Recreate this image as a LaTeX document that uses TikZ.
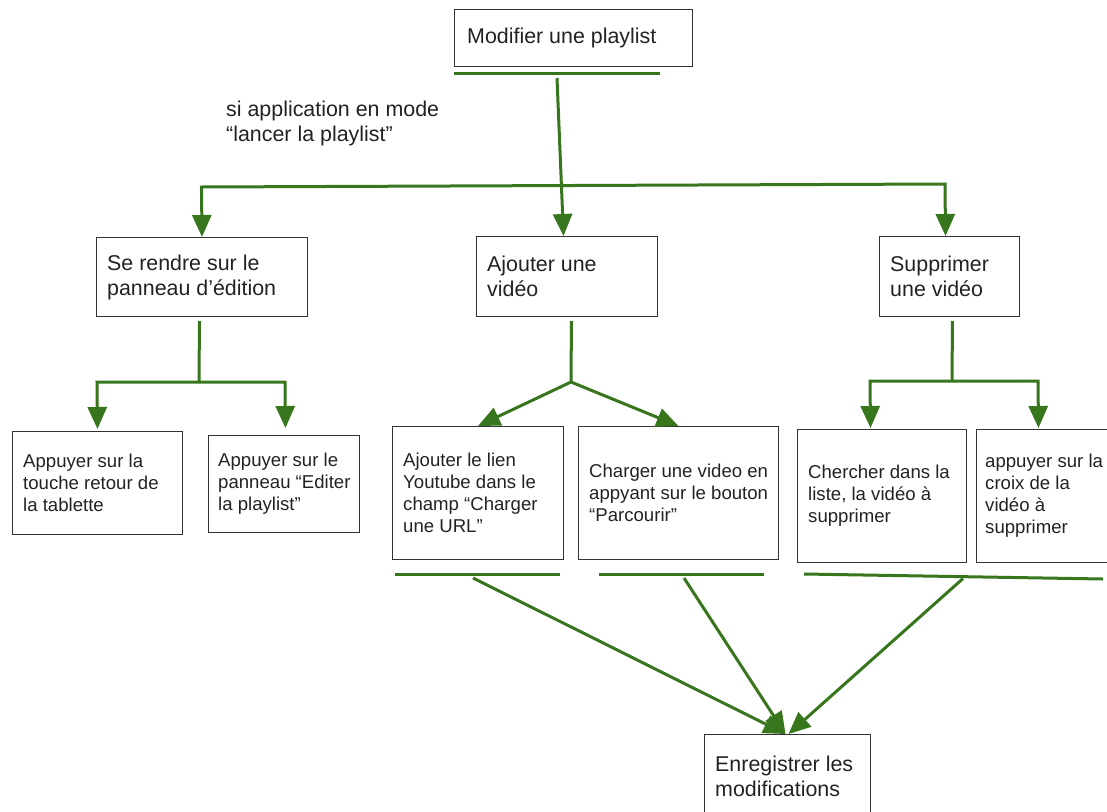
\documentclass[tikz,border=0pt]{standalone}
\usepackage{fontspec}
\setmainfont{Liberation Sans}
\usetikzlibrary{arrows.meta}
\definecolor{gr}{HTML}{38761D}
\definecolor{txtc}{HTML}{222222}
\begin{document}
\begin{tikzpicture}[x=1pt,y=-1pt,
  box/.style={draw=black!80, line width=1pt, rectangle, inner sep=0pt, anchor=north west},
  big/.style={font=\fontsize{21.4}{25}\selectfont, text=txtc, align=left, inner sep=0pt, anchor=west},
  small/.style={font=\fontsize{18.6}{22}\selectfont, text=txtc, align=left, inner sep=0pt, anchor=west},
  gline/.style={draw=gr, line width=3pt, line join=miter},
  >={Triangle[width=19pt,length=22pt]}
]
\useasboundingbox (0,0) rectangle (1107,811);
\clip (0,0) rectangle (1107,811);

% boxes
\node[box, minimum width=238, minimum height=57] (top) at (454,9) {};
\node[big] (toptxt) at ([xshift=13]top.west) {Modifier une playlist};

\node[big] (cond) at (226,123) {si application en mode\\“lancer la playlist”};

\node[box, minimum width=211, minimum height=79] (se) at (96,237) {};
\node[big] (setxt) at ([xshift=11]se.west) {Se rendre sur le\\panneau d’édition};

\node[box, minimum width=181, minimum height=80] (aj) at (476,236) {};
\node[big] (ajtxt) at ([xshift=11]aj.west) {Ajouter une\\vidéo};

\node[box, minimum width=140, minimum height=80] (su) at (879,236) {};
\node[big] (sutxt) at ([xshift=11]su.west) {Supprimer\\une vidéo};

\node[box, minimum width=170, minimum height=103] (ap1) at (12,431) {};
\node[small] (ap1txt) at ([xshift=11]ap1.west) {Appuyer sur la\\touche retour de\\la tablette};

\node[box, minimum width=151, minimum height=97] (ap2) at (208,435) {};
\node[small] (ap2txt) at ([xshift=10]ap2.west) {Appuyer sur le\\panneau “Editer\\la playlist”};

\node[box, minimum width=171, minimum height=133] (al) at (392,426) {};
\node[small] (altxt) at ([xshift=11]al.west) {Ajouter le lien\\Youtube dans le\\champ “Charger\\une URL”};

\node[box, minimum width=200, minimum height=133] (ch) at (578,426) {};
\node[small] (chtxt) at ([xshift=11]ch.west) {Charger une video en\\appyant sur le bouton\\“Parcourir”};

\node[box, minimum width=169, minimum height=133] (cs) at (797,429) {};
\node[small] (cstxt) at ([xshift=11]cs.west) {Chercher dans la\\liste, la vidéo à\\supprimer};

\node[box, minimum width=150, minimum height=133] (cx) at (976,429) {};
\node[small] (cxtxt) at ([xshift=9]cx.west) {appuyer sur la\\croix de la\\vidéo à\\supprimer};

\node[box, minimum width=166, minimum height=83] (en) at (704,734) {};
\node[big] (entxt) at ([xshift=11]en.west) {Enregistrer les\\modifications};

% top connectors
\coordinate (u0a) at (454,73);
\coordinate (u0b) at (660,73);
\draw[gline] (u0a) -- (u0b);
\coordinate (v0) at (557,78);
\draw[gline,->] (v0) -- ([xshift=-3.5]aj.north);
\coordinate (hl) at (201.5,187);
\coordinate (hr) at (945,184);
\draw[gline,<->] (se.north) -- (hl) -- (hr) -- ([xshift=-4]su.north);

% left branch
\coordinate (sej) at (199,382);
\draw[gline, shorten <=4pt] ([xshift=-2.5]se.south) -- (sej);
\coordinate (sel) at (97,382);
\coordinate (ser) at (285,382);
\draw[gline,<->, shorten <=2pt, shorten >=7pt] (ap1.north) -- (sel) -- (ser) -- ([xshift=1.5]ap2.north);

% middle branch
\coordinate (ajj) at (571,382);
\draw[gline, shorten <=4pt] ([xshift=4.5]aj.south) -- (ajj);
\draw[gline,->] (ajj) -- (al.north);
\draw[gline,->] (ajj) -- (ch.north);

% right branch
\coordinate (suj) at (952,381);
\draw[gline, shorten <=4pt] ([xshift=3]su.south) -- (suj);
\coordinate (sul) at (870,381);
\coordinate (sur) at (1038,381);
\draw[gline,<->, shorten <=1pt, shorten >=1pt] ([xshift=-11.5]cs.north) -- (sul) -- (sur) -- ([xshift=-13]cx.north);

% bottom underlines
\coordinate (u1a) at (395,574); \coordinate (u1b) at (560,574);
\coordinate (u2a) at (599,574); \coordinate (u2b) at (764,574);
\coordinate (u3a) at (804,574); \coordinate (u3b) at (1103,579);
\draw[gline] (u1a) -- (u1b);
\draw[gline] (u2a) -- (u2b);
\draw[gline] (u3a) -- (u3b);

\coordinate (d1) at (473,578);
\coordinate (d2) at (684,578);
\coordinate (d3) at (963,578.5);
\draw[gline,->] (d1) -- ([xshift=-2]en.north);
\draw[gline,->] (d2) -- ([xshift=-2]en.north);
\draw[gline,->] (d3) -- ([xshift=1]en.north);
\end{tikzpicture}
\end{document}
